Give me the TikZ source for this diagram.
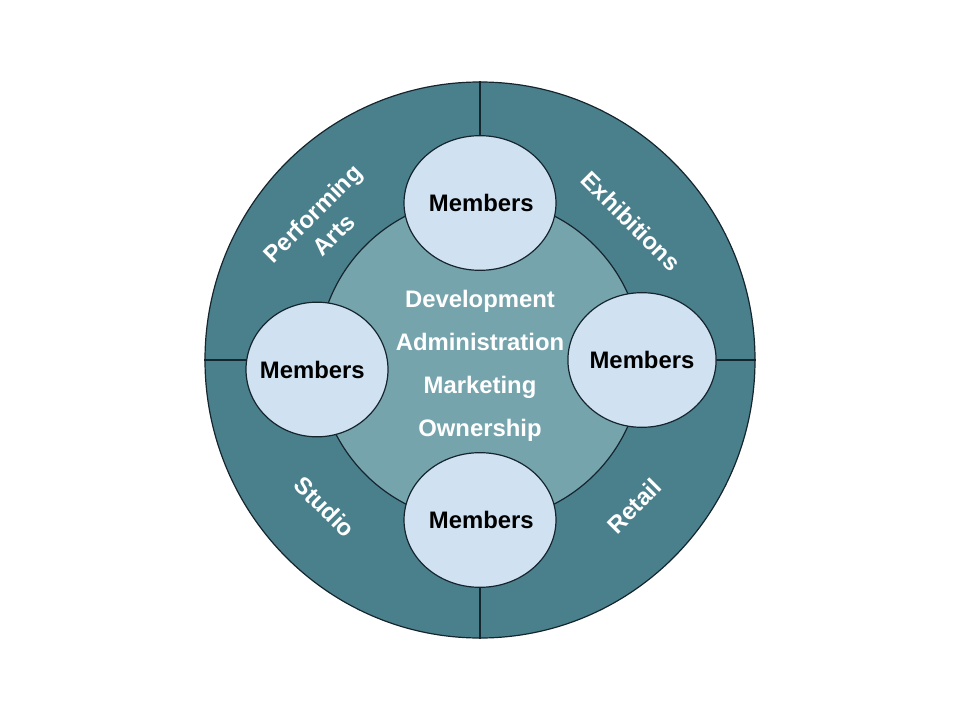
\documentclass[tikz,border=0pt]{standalone}
\usepackage{fontspec}
\setmainfont{Liberation Sans}
\usetikzlibrary{shapes.geometric}
\definecolor{ringc}{HTML}{4A808C}
\definecolor{innerc}{HTML}{76A4AD}
\definecolor{memc}{HTML}{D0E2F2}
\definecolor{edgec}{HTML}{15252E}
\tikzset{
  outline/.style={draw=edgec, line width=0.9pt},
  member/.style={ellipse, outline, fill=memc, minimum width=106.5pt, minimum height=101pt, inner sep=0pt,
     font=\fontsize{17.9}{20}\selectfont\bfseries, text=black},
  ringlabel/.style={text=white, font=\fontsize{17.9}{22.5}\selectfont\bfseries, align=center, inner sep=0pt},
}
\begin{document}
\begin{tikzpicture}[x=0.75pt, y=-0.75pt]
\useasboundingbox (0,0) rectangle (960,720);
\fill[white] (0,0) rectangle (960,720);
% outer ring
\node[ellipse, outline, fill=ringc, minimum width=412.5pt, minimum height=417pt, inner sep=0pt] (outer) at (480,360) {};
\draw[outline] (outer.north) -- (outer.south);
\draw[outline] (outer.west) -- (outer.east);
% inner circle
\node[circle, outline, fill=innerc, minimum size=243pt, inner sep=0pt] (inner) at (480,360) {};
\node[text=white, font=\fontsize{17.9}{32.25}\selectfont\bfseries, align=center] (core) at (480,366)
  {Development\\Administration\\Marketing\\Ownership};
% members
\node[member] (mtop) at (480,203) {\hspace*{2pt}Members};
\node[member] (mleft) at (317,369.5) {\hspace*{-7pt}Members};
\node[member] (mright) at (642,360) {Members};
\node[member] (mbottom) at (480,520) {\hspace*{2pt}Members};
% ring labels
\node[ringlabel, rotate=45] (perf) at (323,224) {Performing\\Arts};
\node[ringlabel, rotate=-45] (exh) at (631,221) {Exhibitions};
\node[ringlabel, rotate=-45] (studio) at (325,507) {Studio};
\node[ringlabel, rotate=45] (retail) at (634,506) {Retail};
\end{tikzpicture}
\end{document}
